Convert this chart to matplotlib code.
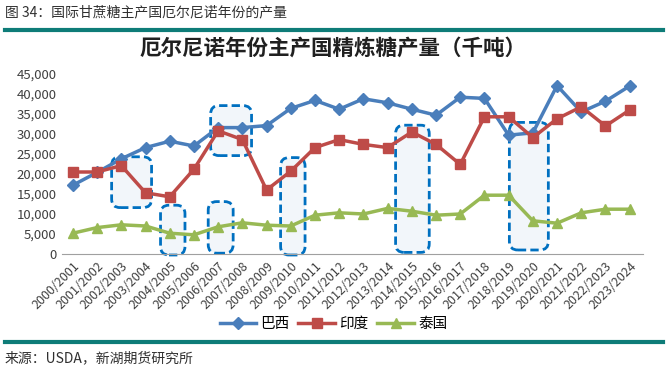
import matplotlib
matplotlib.use("Agg")
import matplotlib.pyplot as plt
from matplotlib.patches import FancyBboxPatch
from matplotlib.lines import Line2D

plt.rcParams['font.family'] = ['Noto Sans CJK SC', 'DejaVu Sans']

years = ["2000/2001", "2001/2002", "2002/2003", "2003/2004", "2004/2005", "2005/2006",
         "2006/2007", "2007/2008", "2008/2009", "2009/2010", "2010/2011", "2011/2012",
         "2012/2013", "2013/2014", "2014/2015", "2015/2016", "2016/2017", "2017/2018",
         "2018/2019", "2019/2020", "2020/2021", "2021/2022", "2022/2023", "2023/2024"]
brazil = [17200, 20400, 23800, 26600, 28200, 27000, 31600, 31600, 32100, 36400, 38400, 36200,
          38800, 37800, 36200, 34700, 39200, 38900, 29700, 30300, 42100, 35500, 38200, 42000]
india = [20500, 20500, 22100, 15300, 14300, 21200, 30800, 28600, 16000, 20700, 26600, 28600,
         27400, 26600, 30500, 27400, 22400, 34300, 34300, 29100, 33800, 36800, 32000, 36000]
thailand = [5200, 6600, 7300, 7000, 5200, 4800, 6800, 7800, 7200, 7000, 9700, 10300,
            10000, 11400, 10700, 9700, 10000, 14700, 14700, 8300, 7700, 10300, 11200, 11200]
series_names = ["巴西", "印度", "泰国"]
# highlight boxes: (x0, x1, y0, y1) in category index / value units
boxes = [(1.6, 3.25, 11600, 24300), (3.62, 4.63, -250, 12200), (5.69, 7.38, 24600, 37100),
         (5.59, 6.62, 200, 13100), (8.58, 9.59, -250, 24100), (13.33, 14.72, 400, 32200),
         (18.03, 19.64, 1000, 32900)]

fig = plt.figure(figsize=(6.67, 3.9), dpi=100)
ax = fig.add_axes([62/667, 1-254/390, 581/667, 180/390])

x = list(range(len(years)))
ax.plot(x, brazil, color="#4a7ebb", lw=2.5, marker="D", ms=6, zorder=3, label=series_names[0])
ax.plot(x, india, color="#be4b48", lw=2.5, marker="s", ms=7, zorder=3, label=series_names[1])
ax.plot(x, thailand, color="#98b954", lw=2.5, marker="^", ms=7, zorder=3, label=series_names[2])

asp = 250 * 24.2
for x0, x1, y0, y1 in boxes:
    p = FancyBboxPatch((x0, y0), x1 - x0, y1 - y0,
                       boxstyle="round,pad=0,rounding_size=0.35", mutation_aspect=asp,
                       facecolor="#f2f6fa", edgecolor="#0070c0", lw=2, ls=(0, (3, 1.5)),
                       zorder=1, clip_on=False)
    ax.add_patch(p)

ax.set_xlim(-0.45, 23.55)
ax.set_ylim(0, 45000)
ax.set_yticks(range(0, 45001, 5000))
ax.set_yticklabels([f"{v:,}" for v in range(0, 45001, 5000)], fontsize=9.5, color="#404040")
ax.set_xticks(x)
ax.set_xticklabels(years, rotation=45, ha="right", rotation_mode="anchor", fontsize=9, color="#404040")
ax.tick_params(length=0, pad=4)
for s in ["top", "right", "left"]:
    ax.spines[s].set_visible(False)
ax.spines["bottom"].set_color("#a0a0a0")

fig.text(0.5, 1-48/390, "厄尔尼诺年份主产国精炼糖产量（千吨）", ha="center", va="center",
         fontsize=15.5, fontweight="bold", color="#202020")
fig.text(5/667, 1-12/390, "图 34：国际甘蔗糖主产国厄尔尼诺年份的产量", ha="left", va="center",
         fontsize=10, color="#303030")
fig.text(5/667, 1-358/390, "来源：USDA，新湖期货研究所", ha="left", va="center",
         fontsize=10, color="#303030")
fig.add_artist(Line2D([5/667, 663/667], [1-30/390]*2, color="#0e7c78", lw=3))
fig.add_artist(Line2D([5/667, 663/667], [1-342/390]*2, color="#0e7c78", lw=3))

fig.legend(loc="center", bbox_to_anchor=(0.5, 1-324/390), ncol=3, frameon=False,
           fontsize=10.5, handlelength=2.5, columnspacing=0.6, handletextpad=0.3)

fig.savefig("out.png", dpi=100, facecolor="white")
